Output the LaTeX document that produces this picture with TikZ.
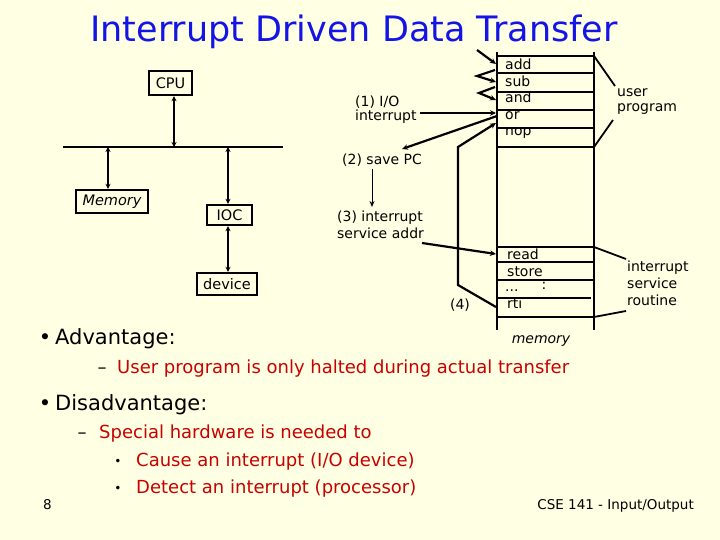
\documentclass[tikz,border=0pt]{standalone}
\usepackage{fontspec}
\setmainfont{DejaVu Sans}
\usetikzlibrary{arrows.meta}
\definecolor{bg}{RGB}{255,255,228}
\definecolor{ttl}{RGB}{20,20,230}
\definecolor{rd}{RGB}{200,0,0}
\begin{document}
\begin{tikzpicture}[x=1pt,y=-1pt,
  box/.style={draw,line width=2.4pt,inner sep=0pt,font=\fontsize{14.5}{16}\selectfont},
  colline/.style={line width=2.4pt},
  arr/.style={line width=2.2pt,-{Stealth[length=6pt,width=5.5pt]}},
  barr/.style={line width=2pt,{Stealth[length=5pt,width=5pt]}-{Stealth[length=5pt,width=5pt]}},
  lbl/.style={inner sep=0pt,font=\fontsize{14}{16}\selectfont},
  big/.style={inner sep=0pt,font=\fontsize{21}{25}\selectfont},
  red/.style={inner sep=0pt,text=rd,font=\fontsize{18}{22}\selectfont},
  foot/.style={inner sep=0pt,font=\fontsize{13.5}{16}\selectfont}]
\fill[bg] (0,0) rectangle (720,540);
\useasboundingbox (0,0) rectangle (720,540);

% title
\node[inner sep=0pt,text=ttl,font=\fontsize{35}{40}\selectfont,anchor=base] (title) at (354,42) {Interrupt Driven Data Transfer};

% left block diagram
\coordinate (busL) at (63,147);
\coordinate (busR) at (283,147);
\draw[line width=2.4pt] (busL) -- (busR);
\node[box,minimum width=43pt,minimum height=24pt] (cpu) at (170.5,83) {CPU};
\node[box,minimum width=72pt,minimum height=23pt] (mem) at (112,201.5) {\itshape Memory};
\node[box,minimum width=45pt,minimum height=20pt] (ioc) at (229.5,215) {IOC};
\node[box,minimum width=60pt,minimum height=22pt] (dev) at (227,284) {device};
\draw[barr] ([xshift=3.5pt]cpu.south) -- ([xshift=3.5pt]cpu.south |- busL);
\draw[barr] ([xshift=-4pt]mem.north |- busL) -- ([xshift=-4pt]mem.north);
\draw[barr] ([xshift=-1.5pt]ioc.north |- busL) -- ([xshift=-1.5pt]ioc.north);
\draw[barr] ([xshift=-1.5pt]ioc.south) -- ([xshift=-1.5pt]ioc.south |- dev.north);

% memory column
\coordinate (cTL) at (497,52);
\coordinate (cTR) at (594,52);
\coordinate (cBL) at (497,330);
\coordinate (cBR) at (594,330);
\draw[colline] (cTL) -- (cBL);
\draw[colline] (cTR) -- (cBR);
\foreach \yy in {56,73,92,110,128,147,247,262,280,317}
  \draw[colline] (497,\yy) -- (594,\yy);
\draw[colline] (497,298) -- (591,298);

\node[lbl,anchor=base west] (iadd) at (505,70) {add};
\node[lbl,anchor=base west] (isub) at (505,87) {sub};
\node[lbl,anchor=base west] (iand) at (505,103) {and};
\node[lbl,anchor=base west] (ior) at (505,120) {or};
\node[lbl,anchor=base west] (inop) at (505,136) {nop};
\node[lbl,anchor=base west] (iread) at (507,259) {read};
\node[lbl,anchor=base west] (istore) at (507,276) {store};
\node[lbl,anchor=base west] (idots) at (505,291) {...};
\node[lbl,anchor=base] (icolon) at (544,289) {:};
\node[lbl,anchor=base west] (irti) at (507,308) {rti};
\node[lbl,anchor=base,font=\fontsize{14}{16}\selectfont\itshape] (memlbl) at (541,343) {memory};

% user program / ISR labels
\node[lbl,anchor=base west] (up1) at (617,97) {user};
\node[lbl,anchor=base west] (up2) at (617,112) {program};
\draw[line width=1.8pt] (594,56) -- (615,86);
\draw[line width=1.8pt] (594,147) -- (613,120);
\node[lbl,anchor=base west] (isr1) at (627,271) {interrupt};
\node[lbl,anchor=base west] (isr2) at (627,288) {service};
\node[lbl,anchor=base west] (isr3) at (627,305) {routine};
\draw[line width=1.8pt] (594,247) -- (626,259);
\draw[line width=1.8pt] (594,317) -- (626,311);

% flow arrows
\coordinate (f0) at (477,50);
\draw[arr] (f0) -- (496,64);
\draw[arr] (495,70) -- (477,76) -- (496,82);
\draw[arr] (495,87) -- (479,93) -- (496,100);

\node[lbl,anchor=base west] (l1a) at (355,107) {(1) I/O};
\node[lbl,anchor=base west] (l1b) at (355,121) {interrupt};
\draw[arr] (420,113) -- (496,113);
\node[lbl,anchor=base west] (l2) at (342,165) {(2) save PC};
\draw[arr] (497,116) -- (402,149);
\draw[line width=1pt,-{Stealth[length=6pt,width=5pt]}] (372,169) -- (372,207);
\node[lbl,anchor=base west] (l3a) at (337,222) {(3) interrupt};
\node[lbl,anchor=base west] (l3b) at (337,238) {service addr};
\draw[arr] (422,243) -- (496,254);
\node[lbl,anchor=base] (l4) at (460,309) {(4)};
\draw[arr] (496,307) -- (458,285) -- (458,147) -- (496,123);

% bullets
\node[big,anchor=base] (b1) at (45,344) {•};
\node[big,anchor=base west] (adv) at (55,344) {Advantage:};
\node[foot,anchor=base,font=\fontsize{18}{22}\selectfont] (d1) at (102,373) {–};
\node[red,anchor=base west] (adv1) at (117,373) {User program is only halted during actual transfer};
\node[big,anchor=base] (b2) at (45,410) {•};
\node[big,anchor=base west] (dis) at (55,410) {Disadvantage:};
\node[foot,anchor=base,font=\fontsize{18}{22}\selectfont] (d2) at (82,438) {–};
\node[red,anchor=base west] (dis1) at (99,438) {Special hardware is needed to};
\node[foot,anchor=base,font=\fontsize{12}{14}\selectfont] (s1) at (118,465) {•};
\node[red,anchor=base west] (dis2) at (136,466) {Cause an interrupt (I/O device)};
\node[foot,anchor=base,font=\fontsize{12}{14}\selectfont] (s2) at (118,492) {•};
\node[red,anchor=base west] (dis3) at (136,493) {Detect an interrupt (processor)};

% footer
\node[foot,anchor=base west] (pg) at (43,509) {8};
\node[foot,anchor=base east] (crs) at (694,509) {CSE 141 - Input/Output};
\end{tikzpicture}
\end{document}
